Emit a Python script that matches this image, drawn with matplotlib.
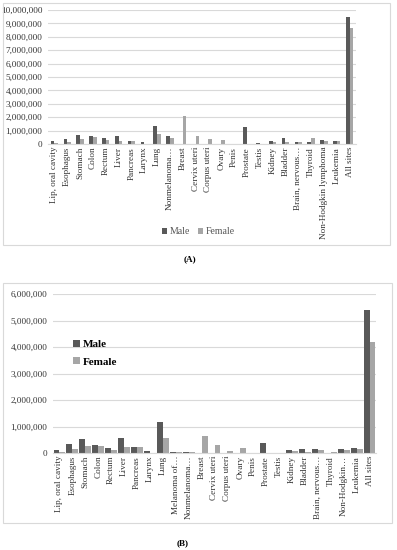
# cancer_by_site.py
import numpy as np
import matplotlib.pyplot as plt
from matplotlib.patches import Rectangle
from matplotlib.ticker import FuncFormatter, MultipleLocator

plt.rcParams["font.family"] = ["Liberation Serif", "DejaVu Serif"]

# panel A (incidence)
sites_a = ["Lip, oral cavity", "Esophagus", "Stomach", "Colon", "Rectum", "Liver",
           "Pancreas", "Larynx", "Lung", "Nonmelanoma…", "Breast", "Cervix uteri",
           "Corpus uteri", "Ovary", "Penis", "Prostate", "Testis", "Kidney", "Bladder",
           "Brain, nervous…", "Thyroid", "Non-Hodgkin lymphoma", "Leukemia", "All sites"]
male_a = [246000, 400000, 680000, 580000, 430000, 600000, 240000, 180000, 1370000,
          600000, 0, 0, 0, 0, 35000, 1280000, 72000, 250000, 425000, 162000, 130000,
          285000, 250000, 9460000]
female_a = [100000, 170000, 350000, 510000, 275000, 240000, 220000, 30000, 725000,
            450000, 2090000, 570000, 380000, 300000, 0, 0, 0, 150000, 125000, 135000,
            435000, 225000, 190000, 8620000]

# panel B (mortality)
sites_b = ["Lip, oral cavity", "Esophagus", "Stomach", "Colon", "Rectum", "Liver",
           "Pancreas", "Larynx", "Lung", "Melanoma of…", "Nonmelanoma…", "Breast",
           "Cervix uteri", "Corpus uteri", "Ovary", "Penis", "Prostate", "Testis",
           "Kidney", "Bladder", "Brain, nervous…", "Thyroid", "Non-Hodgkin…",
           "Leukemia", "All sites"]
male_b = [120000, 355000, 510000, 290000, 170000, 550000, 225000, 82000, 1180000,
          33000, 40000, 0, 0, 0, 0, 15000, 360000, 9000, 110000, 150000, 135000,
          13000, 140000, 175000, 5390000]
female_b = [56000, 145000, 270000, 260000, 110000, 230000, 210000, 12000, 580000,
            27000, 25000, 627000, 312000, 90000, 185000, 0, 0, 0, 65000, 50000,
            105000, 28000, 108000, 135000, 4170000]

MALE = "#595959"
FEMALE = "#a6a6a6"
GRID = "#d9d9d9"
FS = 6.6

fig = plt.figure(figsize=(3.97, 5.5), dpi=100)

thousands = FuncFormatter(lambda v, p: f"{int(v):,}")


def frame(x0, y0, x1, y1):
    W, H = 397, 550
    fig.patches.append(Rectangle((x0 / W, 1 - y1 / H), (x1 - x0) / W, (y1 - y0) / H,
                                 transform=fig.transFigure, fill=False,
                                 edgecolor=GRID, linewidth=0.8))


def style(ax, sites, ymax):
    ax.set_xlim(-0.5, len(sites) - 0.5)
    ax.set_ylim(0, ymax)
    ax.yaxis.set_major_locator(MultipleLocator(1000000))
    ax.yaxis.set_major_formatter(thousands)
    ax.grid(axis="y", color=GRID, linewidth=0.8)
    ax.set_axisbelow(True)
    for s in ["top", "right", "left"]:
        ax.spines[s].set_visible(False)
    ax.spines["bottom"].set_color(GRID)
    ax.set_xticks(np.arange(len(sites)))
    ax.set_xticklabels(sites, rotation=90, fontsize=FS)
    ax.tick_params(axis="y", length=0, labelsize=FS, pad=4, colors="#333333")
    ax.tick_params(axis="x", length=0, pad=2, colors="#333333")


# ---- A ----
frame(3, 3, 390, 245)
axa = fig.add_axes([48 / 397, 1 - 144 / 550, 308 / 397, 134 / 550])
xa = np.arange(len(sites_a))
w = 0.28
axa.bar(xa - w / 2, male_a, w, color=MALE, label="Male")
axa.bar(xa + w / 2, female_a, w, color=FEMALE, label="Female")
style(axa, sites_a, 10000000)
axa.legend(loc="center", bbox_to_anchor=(198 / 397, 1 - 232 / 550),
           bbox_transform=fig.transFigure, ncol=2, frameon=False, fontsize=FS + 0.4,
           labelcolor="#555555",
           handlelength=0.6, handleheight=0.6, handletextpad=0.2, columnspacing=0.8)
fig.text(190 / 397, 1 - 259 / 550, "(A)", fontsize=FS, ha="center", va="center",
         fontweight="bold")

# ---- B ----
frame(3, 283, 392, 523)
axb = fig.add_axes([53 / 397, 1 - 453 / 550, 323 / 397, 159 / 550])
xb = np.arange(len(sites_b))
w = 0.46
axb.bar(xb - w / 2, male_b, w, color=MALE, label="Male")
axb.bar(xb + w / 2, female_b, w, color=FEMALE, label="Female")
style(axb, sites_b, 6000000)
axb.legend(loc="upper left", bbox_to_anchor=(63 / 397, 1 - 330 / 550),
           bbox_transform=fig.transFigure, frameon=False,
           prop={"size": FS + 1.4, "weight": "bold"},
           handlelength=0.6, handleheight=0.6, handletextpad=0.3, labelspacing=0.7)
fig.text(183 / 397, 1 - 543 / 550, "(B)", fontsize=FS, ha="center", va="center",
         fontweight="bold")

fig.savefig("out.png", dpi=100)
